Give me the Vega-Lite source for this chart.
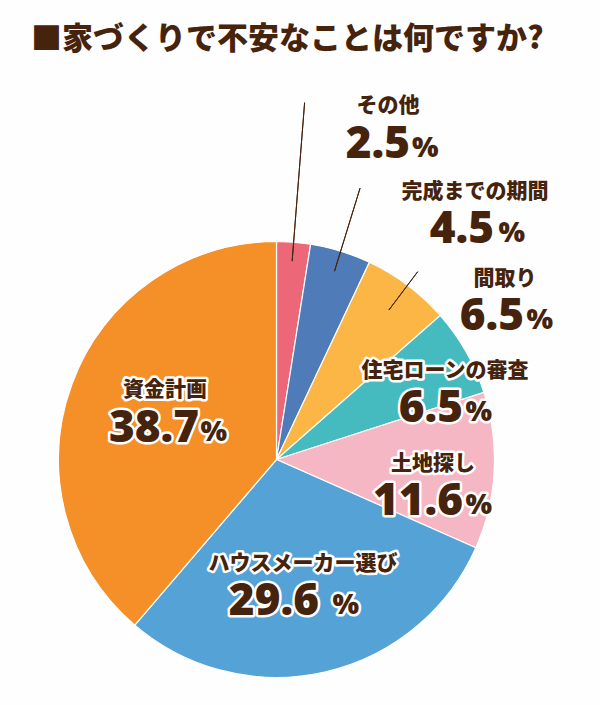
{
  "$schema": "https://vega.github.io/schema/vega-lite/v6.json",
  "width": 437,
  "height": 437,
  "autosize": {"type": "none"},
  "padding": {"left": 58, "top": 241, "right": 105, "bottom": 27},
  "background": "#fdfefd",
  "config": {"view": {"stroke": null}, "text": {"font": "Noto Sans CJK JP"}},
  "title": {"text": "■家づくりで不安なことは何ですか?", "frame": "group", "anchor": "start", "dx": -27, "offset": 15, "baseline": "alphabetic", "font": "Noto Sans CJK JP", "fontSize": 31, "fontWeight": 900, "color": "#46230c"},
  "data": {"values": [
    {"name": "その他", "value": 2.5, "order": 1},
    {"name": "完成までの期間", "value": 4.5, "order": 2},
    {"name": "間取り", "value": 6.5, "order": 3},
    {"name": "住宅ローンの審査", "value": 6.5, "order": 4},
    {"name": "土地探し", "value": 11.6, "order": 5},
    {"name": "ハウスメーカー選び", "value": 29.6, "order": 6},
    {"name": "資金計画", "value": 38.7, "order": 7}
  ]},
  "encoding": {
    "theta": {"field": "value", "type": "quantitative", "stack": true},
    "order": {"field": "order", "type": "quantitative"},
    "detail": {"field": "name", "type": "nominal"}
  },
  "layer": [
    {"mark": {"type": "arc", "radius": 218, "stroke": "#ffffff", "strokeWidth": 1.2},
     "encoding": {"color": {"field": "name", "type": "nominal", "legend": null,
       "scale": {"domain": ["その他", "完成までの期間", "間取り", "住宅ローンの審査", "土地探し", "ハウスメーカー選び", "資金計画"],
                 "range": ["#ec6878", "#4f7bb8", "#fbb645", "#46bbbf", "#f4b7c3", "#55a3d6", "#f59028"]}}}},
    {"mark": {"type": "arc", "filled": false, "radius": 358, "radius2": 199, "padAngle": 1, "strokeWidth": 1},
     "encoding": {"stroke": {"condition": {"test": "datum.name === 'その他'", "value": "#46230c"}, "value": "transparent"}}},
    {"mark": {"type": "arc", "filled": false, "radius": 284, "radius2": 197, "padAngle": 1, "strokeWidth": 1},
     "encoding": {"stroke": {"condition": {"test": "datum.name === '完成までの期間'", "value": "#46230c"}, "value": "transparent"}}},
    {"mark": {"type": "arc", "filled": false, "radius": 235, "radius2": 187, "padAngle": 1, "strokeWidth": 1},
     "encoding": {"stroke": {"condition": {"test": "datum.name === '間取り'", "value": "#46230c"}, "value": "transparent"}}},

    {"mark": {"type": "text", "radius": 358, "dx": 83.4, "dy": 3.4, "align": "center", "baseline": "middle", "fontSize": 21, "fontWeight": 900, "fill": "#46230c"},
     "encoding": {"text": {"condition": {"test": "datum.name === 'その他'", "field": "name", "type": "nominal"}, "value": ""}}},
    {"mark": {"type": "text", "radius": 358, "dx": 105.4, "dy": 55.4, "align": "right", "baseline": "alphabetic", "font": "Noto Sans", "fontSize": 44, "fontWeight": 900, "fill": "#46230c"},
     "encoding": {"text": {"condition": {"test": "datum.name === 'その他'", "field": "value", "type": "quantitative", "format": ".1f"}, "value": ""}}},
    {"mark": {"type": "text", "radius": 358, "dx": 107.5, "dy": 54.5, "align": "left", "baseline": "alphabetic", "font": "Noto Sans", "fontSize": 28, "fontWeight": 900, "fill": "#46230c"},
     "encoding": {"text": {"condition": {"test": "datum.name === 'その他'", "value": "%"}, "value": ""}}},

    {"mark": {"type": "text", "radius": 284, "dx": 114.9, "dy": 3.9, "align": "center", "baseline": "middle", "fontSize": 21, "fontWeight": 900, "fill": "#46230c"},
     "encoding": {"text": {"condition": {"test": "datum.name === '完成までの期間'", "field": "name", "type": "nominal"}, "value": ""}}},
    {"mark": {"type": "text", "radius": 284, "dx": 133.9, "dy": 54.9, "align": "right", "baseline": "alphabetic", "font": "Noto Sans", "fontSize": 44, "fontWeight": 900, "fill": "#46230c"},
     "encoding": {"text": {"condition": {"test": "datum.name === '完成までの期間'", "field": "value", "type": "quantitative", "format": ".1f"}, "value": ""}}},
    {"mark": {"type": "text", "radius": 284, "dx": 138.4, "dy": 54, "align": "left", "baseline": "alphabetic", "font": "Noto Sans", "fontSize": 28, "fontWeight": 900, "fill": "#46230c"},
     "encoding": {"text": {"condition": {"test": "datum.name === '完成までの期間'", "value": "%"}, "value": ""}}},

    {"mark": {"type": "text", "radius": 235, "dx": 87.3, "dy": 7.3, "align": "center", "baseline": "middle", "fontSize": 21, "fontWeight": 900, "fill": "#46230c"},
     "encoding": {"text": {"condition": {"test": "datum.name === '間取り'", "field": "name", "type": "nominal"}, "value": ""}}},
    {"mark": {"type": "text", "radius": 235, "dx": 106.3, "dy": 58.3, "align": "right", "baseline": "alphabetic", "font": "Noto Sans", "fontSize": 44, "fontWeight": 900, "fill": "#46230c"},
     "encoding": {"text": {"condition": {"test": "datum.name === '間取り'", "field": "value", "type": "quantitative", "format": ".1f"}, "value": ""}}},
    {"mark": {"type": "text", "radius": 235, "dx": 108.8, "dy": 57.5, "align": "left", "baseline": "alphabetic", "font": "Noto Sans", "fontSize": 28, "fontWeight": 900, "fill": "#46230c"},
     "encoding": {"text": {"condition": {"test": "datum.name === '間取り'", "value": "%"}, "value": ""}}},

    {"mark": {"type": "text", "radius": 185, "dx": 7.7, "dy": 3, "align": "center", "baseline": "middle", "fontSize": 21, "fontWeight": 900, "fill": "#ffffff", "stroke": "#ffffff", "strokeWidth": 5, "strokeJoin": "round"},
     "encoding": {"text": {"condition": {"test": "datum.name === '住宅ローンの審査'", "field": "name", "type": "nominal"}, "value": ""}}},
    {"mark": {"type": "text", "radius": 185, "dx": 7.7, "dy": 3, "align": "center", "baseline": "middle", "fontSize": 21, "fontWeight": 900, "fill": "#46230c"},
     "encoding": {"text": {"condition": {"test": "datum.name === '住宅ローンの審査'", "field": "name", "type": "nominal"}, "value": ""}}},
    {"mark": {"type": "text", "radius": 185, "dx": 25.7, "dy": 54, "align": "right", "baseline": "alphabetic", "font": "Noto Sans", "fontSize": 44, "fontWeight": 900, "fill": "#ffffff", "stroke": "#ffffff", "strokeWidth": 5, "strokeJoin": "round"},
     "encoding": {"text": {"condition": {"test": "datum.name === '住宅ローンの審査'", "field": "value", "type": "quantitative", "format": ".1f"}, "value": ""}}},
    {"mark": {"type": "text", "radius": 185, "dx": 25.7, "dy": 54, "align": "right", "baseline": "alphabetic", "font": "Noto Sans", "fontSize": 44, "fontWeight": 900, "fill": "#46230c"},
     "encoding": {"text": {"condition": {"test": "datum.name === '住宅ローンの審査'", "field": "value", "type": "quantitative", "format": ".1f"}, "value": ""}}},
    {"mark": {"type": "text", "radius": 185, "dx": 28.2, "dy": 53, "align": "left", "baseline": "alphabetic", "font": "Noto Sans", "fontSize": 28, "fontWeight": 900, "fill": "#ffffff", "stroke": "#ffffff", "strokeWidth": 5, "strokeJoin": "round"},
     "encoding": {"text": {"condition": {"test": "datum.name === '住宅ローンの審査'", "value": "%"}, "value": ""}}},
    {"mark": {"type": "text", "radius": 185, "dx": 28.2, "dy": 53, "align": "left", "baseline": "alphabetic", "font": "Noto Sans", "fontSize": 28, "fontWeight": 900, "fill": "#46230c"},
     "encoding": {"text": {"condition": {"test": "datum.name === '住宅ローンの審査'", "value": "%"}, "value": ""}}},

    {"mark": {"type": "text", "radius": 157, "dx": -0.3, "dy": -3.6, "align": "center", "baseline": "middle", "fontSize": 21, "fontWeight": 900, "fill": "#ffffff", "stroke": "#ffffff", "strokeWidth": 5, "strokeJoin": "round"},
     "encoding": {"text": {"condition": {"test": "datum.name === '土地探し'", "field": "name", "type": "nominal"}, "value": ""}}},
    {"mark": {"type": "text", "radius": 157, "dx": -0.3, "dy": -3.6, "align": "center", "baseline": "middle", "fontSize": 21, "fontWeight": 900, "fill": "#46230c"},
     "encoding": {"text": {"condition": {"test": "datum.name === '土地探し'", "field": "name", "type": "nominal"}, "value": ""}}},
    {"mark": {"type": "text", "radius": 157, "dx": 29.7, "dy": 47.4, "align": "right", "baseline": "alphabetic", "font": "Noto Sans", "fontSize": 44, "fontWeight": 900, "fill": "#ffffff", "stroke": "#ffffff", "strokeWidth": 5, "strokeJoin": "round"},
     "encoding": {"text": {"condition": {"test": "datum.name === '土地探し'", "field": "value", "type": "quantitative", "format": ".1f"}, "value": ""}}},
    {"mark": {"type": "text", "radius": 157, "dx": 29.7, "dy": 47.4, "align": "right", "baseline": "alphabetic", "font": "Noto Sans", "fontSize": 44, "fontWeight": 900, "fill": "#46230c"},
     "encoding": {"text": {"condition": {"test": "datum.name === '土地探し'", "field": "value", "type": "quantitative", "format": ".1f"}, "value": ""}}},
    {"mark": {"type": "text", "radius": 157, "dx": 32.2, "dy": 46.5, "align": "left", "baseline": "alphabetic", "font": "Noto Sans", "fontSize": 28, "fontWeight": 900, "fill": "#ffffff", "stroke": "#ffffff", "strokeWidth": 5, "strokeJoin": "round"},
     "encoding": {"text": {"condition": {"test": "datum.name === '土地探し'", "value": "%"}, "value": ""}}},
    {"mark": {"type": "text", "radius": 157, "dx": 32.2, "dy": 46.5, "align": "left", "baseline": "alphabetic", "font": "Noto Sans", "fontSize": 28, "fontWeight": 900, "fill": "#46230c"},
     "encoding": {"text": {"condition": {"test": "datum.name === '土地探し'", "value": "%"}, "value": ""}}},

    {"mark": {"type": "text", "radius": 105, "dx": 3.2, "dy": 2.1, "align": "center", "baseline": "middle", "fontSize": 21, "fontWeight": 900, "fill": "#ffffff", "stroke": "#ffffff", "strokeWidth": 5, "strokeJoin": "round"},
     "encoding": {"text": {"condition": {"test": "datum.name === 'ハウスメーカー選び'", "field": "name", "type": "nominal"}, "value": ""}}},
    {"mark": {"type": "text", "radius": 105, "dx": 3.2, "dy": 2.1, "align": "center", "baseline": "middle", "fontSize": 21, "fontWeight": 900, "fill": "#46230c"},
     "encoding": {"text": {"condition": {"test": "datum.name === 'ハウスメーカー選び'", "field": "name", "type": "nominal"}, "value": ""}}},
    {"mark": {"type": "text", "radius": 105, "dx": 19.2, "dy": 53.1, "align": "right", "baseline": "alphabetic", "font": "Noto Sans", "fontSize": 44, "fontWeight": 900, "fill": "#ffffff", "stroke": "#ffffff", "strokeWidth": 5, "strokeJoin": "round"},
     "encoding": {"text": {"condition": {"test": "datum.name === 'ハウスメーカー選び'", "field": "value", "type": "quantitative", "format": ".1f"}, "value": ""}}},
    {"mark": {"type": "text", "radius": 105, "dx": 19.2, "dy": 53.1, "align": "right", "baseline": "alphabetic", "font": "Noto Sans", "fontSize": 44, "fontWeight": 900, "fill": "#46230c"},
     "encoding": {"text": {"condition": {"test": "datum.name === 'ハウスメーカー選び'", "field": "value", "type": "quantitative", "format": ".1f"}, "value": ""}}},
    {"mark": {"type": "text", "radius": 105, "dx": 32.7, "dy": 52, "align": "left", "baseline": "alphabetic", "font": "Noto Sans", "fontSize": 28, "fontWeight": 900, "fill": "#ffffff", "stroke": "#ffffff", "strokeWidth": 5, "strokeJoin": "round"},
     "encoding": {"text": {"condition": {"test": "datum.name === 'ハウスメーカー選び'", "value": "%"}, "value": ""}}},
    {"mark": {"type": "text", "radius": 105, "dx": 32.7, "dy": 52, "align": "left", "baseline": "alphabetic", "font": "Noto Sans", "fontSize": 28, "fontWeight": 900, "fill": "#46230c"},
     "encoding": {"text": {"condition": {"test": "datum.name === 'ハウスメーカー選び'", "value": "%"}, "value": ""}}},

    {"mark": {"type": "text", "radius": 118, "dx": -0.8, "dy": -28.6, "align": "center", "baseline": "middle", "fontSize": 21, "fontWeight": 900, "fill": "#ffffff", "stroke": "#ffffff", "strokeWidth": 5, "strokeJoin": "round"},
     "encoding": {"text": {"condition": {"test": "datum.name === '資金計画'", "field": "name", "type": "nominal"}, "value": ""}}},
    {"mark": {"type": "text", "radius": 118, "dx": -0.8, "dy": -28.6, "align": "center", "baseline": "middle", "fontSize": 21, "fontWeight": 900, "fill": "#46230c"},
     "encoding": {"text": {"condition": {"test": "datum.name === '資金計画'", "field": "name", "type": "nominal"}, "value": ""}}},
    {"mark": {"type": "text", "radius": 118, "dx": 33.2, "dy": 23.4, "align": "right", "baseline": "alphabetic", "font": "Noto Sans", "fontSize": 44, "fontWeight": 900, "fill": "#ffffff", "stroke": "#ffffff", "strokeWidth": 5, "strokeJoin": "round"},
     "encoding": {"text": {"condition": {"test": "datum.name === '資金計画'", "field": "value", "type": "quantitative", "format": ".1f"}, "value": ""}}},
    {"mark": {"type": "text", "radius": 118, "dx": 33.2, "dy": 23.4, "align": "right", "baseline": "alphabetic", "font": "Noto Sans", "fontSize": 44, "fontWeight": 900, "fill": "#46230c"},
     "encoding": {"text": {"condition": {"test": "datum.name === '資金計画'", "field": "value", "type": "quantitative", "format": ".1f"}, "value": ""}}},
    {"mark": {"type": "text", "radius": 118, "dx": 34.7, "dy": 22.5, "align": "left", "baseline": "alphabetic", "font": "Noto Sans", "fontSize": 28, "fontWeight": 900, "fill": "#ffffff", "stroke": "#ffffff", "strokeWidth": 5, "strokeJoin": "round"},
     "encoding": {"text": {"condition": {"test": "datum.name === '資金計画'", "value": "%"}, "value": ""}}},
    {"mark": {"type": "text", "radius": 118, "dx": 34.7, "dy": 22.5, "align": "left", "baseline": "alphabetic", "font": "Noto Sans", "fontSize": 28, "fontWeight": 900, "fill": "#46230c"},
     "encoding": {"text": {"condition": {"test": "datum.name === '資金計画'", "value": "%"}, "value": ""}}}
  ]
}
